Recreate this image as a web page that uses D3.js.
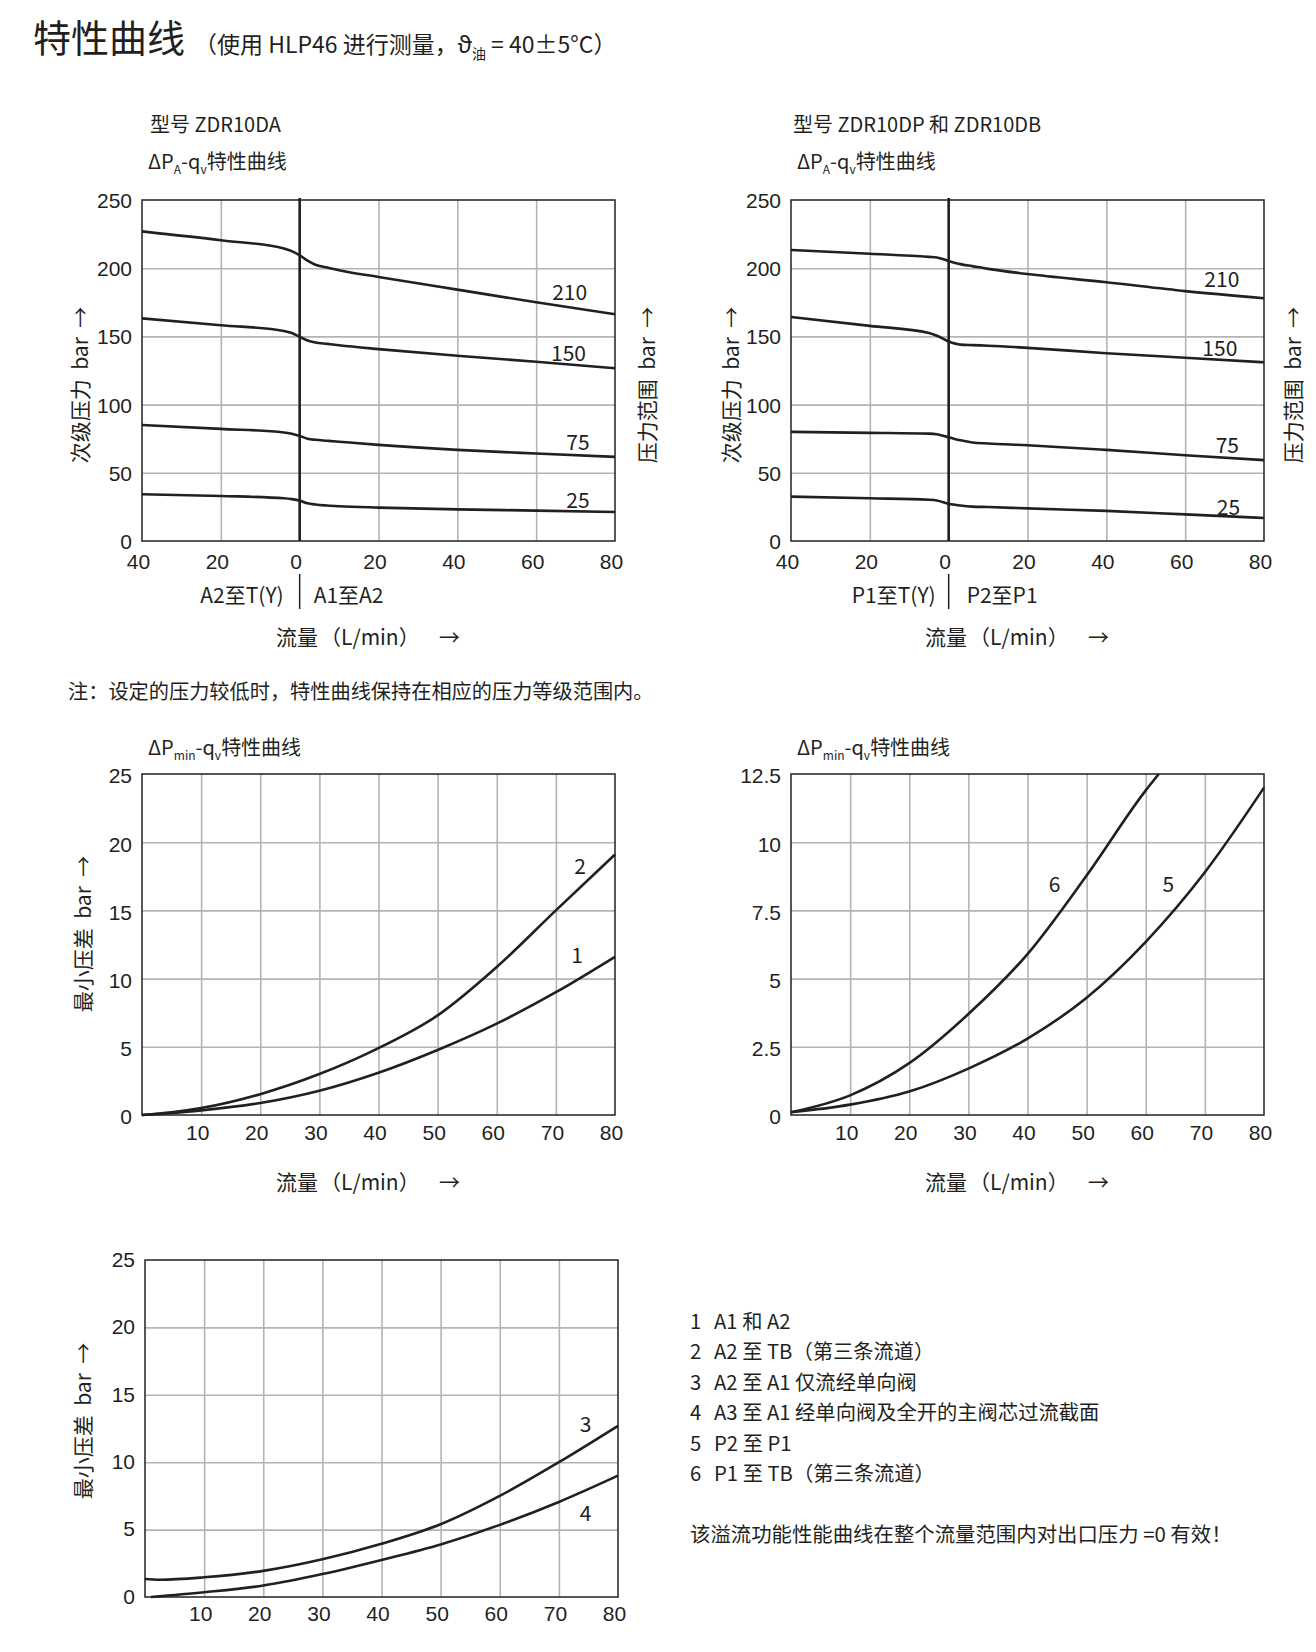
<!DOCTYPE html>
<html><head><meta charset="utf-8">
<script src="https://cdn.jsdelivr.net/npm/d3@7/dist/d3.min.js"></script>
<style>
body{margin:0;background:#fff}
svg{display:block;font-family:"Noto Sans CJK SC","Noto Sans",sans-serif}
text{fill:#231f20}
</style></head><body>
<svg id="c" width="1316" height="1652"></svg>
<script>
// ---------- DATA ----------
// Chart A: ZDR10DA, ΔPA-qv (negative flow = A2至T(Y), positive = A1至A2)
const qDA = [-40, -20, -4, -2, 0, 2, 4, 7, 10, 20, 40, 60, 80];
const pDA210 = [227, 220.5, 214.5, 212.5, 209.5, 205.5, 202.5, 200.5, 198.5, 193.6, 184.3, 175, 166.2];
const pDA150 = [163.2, 158.2, 154, 152.5, 149.7, 147, 145.5, 144.5, 143.5, 140.7, 135.8, 131.4, 126.7];
const pDA75  = [85, 82.2, 79.6, 78.6, 77, 75, 74.2, 73.5, 72.8, 70.5, 66.8, 64.1, 61.7];
const pDA25  = [34.3, 33, 31.3, 30.7, 29.6, 27.6, 26.7, 26, 25.5, 24.5, 23.2, 22.3, 21.3];

// Chart B: ZDR10DP / ZDR10DB (negative flow = P1至T(Y), positive = P2至P1)
const qDP = [-40, -20, -5, -3, 0, 3, 6, 10, 20, 40, 60, 80];
const pDP210 = [213.4, 210.6, 208.3, 207.9, 205.3, 203, 201.5, 199.5, 195.7, 189.7, 183.2, 178];
const pDP150 = [164.2, 157.7, 152.5, 150.5, 146.3, 144, 143.6, 143.2, 141.6, 137.7, 134.4, 131];
const pDP75  = [80, 79.3, 78.7, 78.3, 76.1, 73.8, 72.2, 71.5, 70.2, 66.8, 62.9, 59.3];
const pDP25  = [32.5, 31.3, 30.2, 29.7, 27.3, 26, 25.2, 24.9, 23.9, 22.1, 19.5, 16.9];

const pressureClasses = ["210", "150", "75", "25"];

// Chart C: ΔPmin-qv curves 1 and 2
const qMin12 = [0, 5, 10, 20, 30, 40, 50, 60, 70, 80];
const pMin1 = [0, 0.15, 0.34, 0.88, 1.78, 3.1, 4.77, 6.7, 9.0, 11.6];
const pMin2 = [0, 0.2, 0.51, 1.53, 3.0, 4.9, 7.3, 10.85, 15.0, 19.1];

// Chart D: ΔPmin-qv curves 5 and 6
const qMin5 = [0, 10, 20, 30, 40, 50, 60, 70, 80];
const pMin5 = [0.1, 0.38, 0.86, 1.7, 2.8, 4.3, 6.35, 8.9, 12.0];
const qMin6 = [0, 10, 20, 30, 40, 50, 60, 62.2];
const pMin6 = [0.1, 0.72, 1.9, 3.7, 5.9, 8.78, 11.9, 12.5];

// Chart E: curves 3 and 4
const qMin3 = [0, 2.5, 10, 20, 30, 40, 50, 60, 70, 80];
const pMin3 = [1.33, 1.28, 1.46, 1.94, 2.8, 3.95, 5.4, 7.5, 10.0, 12.7];
const qMin4 = [1, 10, 20, 30, 40, 50, 60, 70, 80];
const pMin4 = [0, 0.35, 0.85, 1.7, 2.75, 3.9, 5.35, 7.05, 9.0];

// Ticks
const ticksQA = [-40, -20, 0, 20, 40, 60, 80];
const ticksPA = [0, 50, 100, 150, 200, 250];
const ticksQmin = [10, 20, 30, 40, 50, 60, 70, 80];
const ticksP25 = [0, 5, 10, 15, 20, 25];
const ticksP125 = [0, 2.5, 5, 7.5, 10, 12.5];

const legendItems = [
  ["1", "A1 和 A2"],
  ["2", "A2 至 TB（第三条流道）"],
  ["3", "A2 至 A1 仅流经单向阀"],
  ["4", "A3 至 A1 经单向阀及全开的主阀芯过流截面"],
  ["5", "P2 至 P1"],
  ["6", "P1 至 TB（第三条流道）"]
];

// ---------- DRAW ----------
const INK = "#231f20", GRID = "#b4b4b4";
const svg = d3.select("#c");

function zip(q, p){ return q.map((v,i)=>[v, p[i]]); }

function drawChart(o){
  const g = svg.append("g");
  const x = d3.scaleLinear().domain(o.xDomain).range([o.left, o.right]);
  const y = d3.scaleLinear().domain(o.yDomain).range([o.bottom, o.top]);
  const H = o.bottom - o.top, W = o.right - o.left;
  // vertical grid
  const gx = g.append("g").attr("transform", `translate(0,${o.bottom})`)
    .call(d3.axisBottom(x).tickValues(o.xTicks.filter(v => v > o.xDomain[0] && v < o.xDomain[1] && !(o.zero && v === 0)))
      .tickSize(-H).tickFormat(""));
  gx.select(".domain").remove();
  gx.selectAll("line").attr("stroke", GRID).attr("stroke-width", 1.6);
  // horizontal grid
  const gy = g.append("g").attr("transform", `translate(${o.left},0)`)
    .call(d3.axisLeft(y).tickValues(o.yTicks.filter(v => v > o.yDomain[0] && v < o.yDomain[1]))
      .tickSize(-W).tickFormat(""));
  gy.select(".domain").remove();
  gy.selectAll("line").attr("stroke", GRID).attr("stroke-width", 1.6);
  // frame
  g.append("rect").attr("x", o.left).attr("y", o.top).attr("width", W).attr("height", H)
    .attr("fill", "none").attr("stroke", INK).attr("stroke-width", 1.5);
  if (o.zero) {
    g.append("line").attr("x1", x(0)).attr("x2", x(0)).attr("y1", o.top - 2).attr("y2", o.bottom)
      .attr("stroke", INK).attr("stroke-width", 2.6);
  }
  // tick labels
  const lx = g.append("g").attr("transform", `translate(0,${o.bottom})`)
    .call(d3.axisBottom(x).tickValues(o.xTicks).tickSize(0).tickPadding(o.xPad || 13)
      .tickFormat(d => Math.abs(d)));
  lx.select(".domain").remove();
  lx.selectAll("text").attr("font-size", 21).attr("fill", INK).attr("font-family", null).attr("dx", -4);
  const ly = g.append("g").attr("transform", `translate(${o.left},0)`)
    .call(d3.axisLeft(y).tickValues(o.yTicks).tickSize(0).tickPadding(10).tickFormat(d => String(d)));
  ly.select(".domain").remove();
  ly.selectAll("text").attr("font-size", 21).attr("fill", INK).attr("font-family", null).attr("dy", o.yDy || "0.36em");
  // curves
  const line = d3.line().x(d => x(d[0])).y(d => y(d[1])).curve(d3.curveMonotoneX);
  o.series.forEach(s => {
    g.append("path").attr("d", line(zip(s.q, s.p))).attr("fill", "none")
      .attr("stroke", INK).attr("stroke-width", 2.6).attr("stroke-linejoin", "round");
    g.append("text").attr("x", x(s.lab[0])).attr("y", y(s.lab[1])).attr("text-anchor", "middle")
      .attr("dominant-baseline", "central").attr("font-size", 21).text(s.name);
  });
  return {x, y};
}

function rotLabel(cx, cy, str){
  svg.append("text").attr("transform", `translate(${cx},${cy}) rotate(-90)`)
    .attr("text-anchor", "middle").attr("dominant-baseline", "central")
    .attr("font-size", 21).style("white-space", "pre").text(str);
}
function flowTitle(left, cy){
  svg.append("text").attr("x", left + 134).attr("y", cy).attr("dominant-baseline", "central").attr("font-size", 21).text("流量");
  svg.append("text").attr("x", left + 178).attr("y", cy).attr("dominant-baseline", "central").attr("font-size", 21).text("（L/min）");
  svg.append("text").attr("x", left + 297).attr("y", cy).attr("dominant-baseline", "central").attr("font-size", 21).text("→");
}
function subTitle(x0, cy, sub){
  const t = svg.append("text").attr("x", x0).attr("y", cy + 7).attr("font-size", 20);
  t.append("tspan").text("ΔP");
  t.append("tspan").attr("font-size", 12).attr("dy", 5).text(sub);
  t.append("tspan").attr("dy", -5).text("-q");
  t.append("tspan").attr("font-size", 12).attr("dy", 5).text("v");
  t.append("tspan").attr("dy", -5).text("特性曲线");
}

// Header
svg.append("text").attr("x", 33).attr("y", 52).attr("font-size", 38).text("特性曲线");
{
  const t = svg.append("text").attr("x", 194).attr("y", 53).attr("font-size", 23);
  t.append("tspan").text("（使用 HLP46 进行测量，ϑ");
  t.append("tspan").attr("font-size", 14).attr("dy", 6).text("油");
  t.append("tspan").attr("dy", -6).text(" = 40±5°C）");
}

// Chart A
const cA = {left: 142, right: 615, top: 200, bottom: 541};
svg.append("text").attr("x", 150).attr("y", 132).attr("font-size", 20).text("型号 ZDR10DA");
subTitle(148, 162, "A");
const sA = drawChart({...cA, xDomain: [-40, 80], yDomain: [0, 250], xTicks: ticksQA, yTicks: ticksPA, zero: true,
  series: [
    {q: qDA, p: pDA210, name: pressureClasses[0], lab: [68.5, 183.5]},
    {q: qDA, p: pDA150, name: pressureClasses[1], lab: [68.2, 138.5]},
    {q: qDA, p: pDA75, name: pressureClasses[2], lab: [70.6, 73.5]},
    {q: qDA, p: pDA25, name: pressureClasses[3], lab: [70.6, 31]}
  ]});
svg.append("text").attr("x", sA.x(0) - 16).attr("y", 594).attr("text-anchor", "end").attr("dominant-baseline", "central").attr("font-size", 21).text("A2至T(Y)");
svg.append("text").attr("x", sA.x(0) + 14).attr("y", 594).attr("dominant-baseline", "central").attr("font-size", 21).text("A1至A2");
svg.append("line").attr("x1", sA.x(0)).attr("x2", sA.x(0)).attr("y1", 574).attr("y2", 609).attr("stroke", INK).attr("stroke-width", 1.5);
flowTitle(cA.left, 636);
rotLabel(79, 385, "次级压力  bar  →");
rotLabel(646, 385, "压力范围  bar  →");

// Chart B
const cB = {left: 791, right: 1264, top: 200, bottom: 541};
svg.append("text").attr("x", 793).attr("y", 132).attr("font-size", 20).text("型号 ZDR10DP 和 ZDR10DB");
subTitle(797, 162, "A");
const sB = drawChart({...cB, xDomain: [-40, 80], yDomain: [0, 250], xTicks: ticksQA, yTicks: ticksPA, zero: true,
  series: [
    {q: qDP, p: pDP210, name: pressureClasses[0], lab: [69.3, 193]},
    {q: qDP, p: pDP150, name: pressureClasses[1], lab: [68.8, 142]},
    {q: qDP, p: pDP75, name: pressureClasses[2], lab: [70.7, 70.8]},
    {q: qDP, p: pDP25, name: pressureClasses[3], lab: [71, 26]}
  ]});
svg.append("text").attr("x", sB.x(0) - 13).attr("y", 594).attr("text-anchor", "end").attr("dominant-baseline", "central").attr("font-size", 21).text("P1至T(Y)");
svg.append("text").attr("x", sB.x(0) + 18).attr("y", 594).attr("dominant-baseline", "central").attr("font-size", 21).text("P2至P1");
svg.append("line").attr("x1", sB.x(0)).attr("x2", sB.x(0)).attr("y1", 574).attr("y2", 609).attr("stroke", INK).attr("stroke-width", 1.5);
flowTitle(cB.left, 636);
rotLabel(730, 385, "次级压力  bar  →");
rotLabel(1292, 385, "压力范围  bar  →");

// Note
svg.append("text").attr("x", 68).attr("y", 690).attr("dominant-baseline", "central").attr("font-size", 20.2)
  .text("注：设定的压力较低时，特性曲线保持在相应的压力等级范围内。");

// Chart C
subTitle(148, 748, "min");
drawChart({left: 142, right: 615, top: 774, bottom: 1115, xDomain: [0, 80], yDomain: [0, 25], xTicks: ticksQmin, yTicks: ticksP25,
  xPad: 10, yDy: "0.42em",
  series: [
    {q: qMin12, p: pMin2, name: "2", lab: [74.1, 18.3]},
    {q: qMin12, p: pMin1, name: "1", lab: [73.6, 11.8]}
  ]});
flowTitle(142, 1181);
rotLabel(82, 934, "最小压差  bar  →");

// Chart D
subTitle(797, 748, "min");
drawChart({left: 791, right: 1264, top: 774, bottom: 1115, xDomain: [0, 80], yDomain: [0, 12.5], xTicks: ticksQmin, yTicks: ticksP125,
  xPad: 10, yDy: "0.42em",
  series: [
    {q: qMin6, p: pMin6, name: "6", lab: [44.6, 8.5]},
    {q: qMin5, p: pMin5, name: "5", lab: [63.8, 8.5]}
  ]});
flowTitle(791, 1181);

// Chart E
drawChart({left: 145, right: 618, top: 1260, bottom: 1597, xDomain: [0, 80], yDomain: [0, 25], xTicks: ticksQmin, yTicks: ticksP25,
  xPad: 9, yDy: "0.3em",
  series: [
    {q: qMin3, p: pMin3, name: "3", lab: [74.5, 12.9]},
    {q: qMin4, p: pMin4, name: "4", lab: [74.5, 6.3]}
  ]});
rotLabel(82, 1421, "最小压差  bar  →");

// Legend
const lg = svg.append("g").attr("font-size", 20.3);
legendItems.forEach((d, i) => {
  const yy = 1320 + i * 30.4;
  lg.append("text").attr("x", 690).attr("y", yy).attr("dominant-baseline", "central").text(d[0]);
  lg.append("text").attr("x", 714).attr("y", yy).attr("dominant-baseline", "central").text(d[1]);
});
svg.append("text").attr("x", 690).attr("y", 1533).attr("dominant-baseline", "central").attr("font-size", 20.4)
  .text("该溢流功能性能曲线在整个流量范围内对出口压力 =0 有效！");
</script></body></html>
